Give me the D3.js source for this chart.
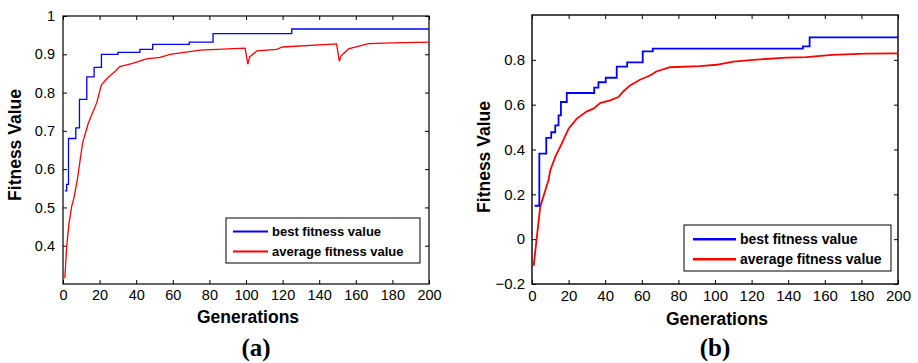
<!DOCTYPE html>
<html>
<head>
<meta charset="utf-8">
<script src="https://cdn.jsdelivr.net/npm/d3@7"></script>
<style>
  body { margin: 0; background: #fff; }
  svg { display: block; font-family: "Liberation Sans", Arial, sans-serif; }
</style>
</head>
<body>
<svg id="chart" width="918" height="363"></svg>
<script>
// ---- data ----
const xTicks = [0, 20, 40, 60, 80, 100, 120, 140, 160, 180, 200];
const yTicksA = [0.4, 0.5, 0.6, 0.7, 0.8, 0.9, 1];
const yTicksB = [-0.2, 0, 0.2, 0.4, 0.6, 0.8];
const seriesNames = ['best fitness value', 'average fitness value'];

// (a) best fitness: step changes [generation, value]
const bestA = [
    [1, 0.543], [2, 0.56], [3, 0.68], [7, 0.708], [9, 0.782], [13, 0.841], [17, 0.866],
    [21, 0.9], [30, 0.905], [42, 0.913], [49, 0.926], [69, 0.932], [82, 0.954],
    [125, 0.966], [200, 0.966]
];
// (a) average fitness
const avgA = [
    [1, 0.315], [2, 0.397], [3.3, 0.459], [4.7, 0.502], [6, 0.525], [7.8, 0.572],
    [10.7, 0.668], [13.8, 0.72], [18.4, 0.773], [21, 0.82], [24.8, 0.84], [28.4, 0.855],
    [31, 0.868], [38, 0.876], [45.7, 0.888], [53, 0.892], [58.5, 0.9], [75, 0.911],
    [99.5, 0.916], [101, 0.874], [102, 0.893], [106, 0.909], [116.7, 0.913], [120, 0.919],
    [149.5, 0.927], [151, 0.882], [152, 0.896], [156, 0.914], [167, 0.928], [180, 0.93],
    [200, 0.932]
];
// (b) best fitness
const bestB = [
    [1.4, 0.149], [4, 0.382], [7.8, 0.452], [10.5, 0.477], [12.7, 0.508], [14.5, 0.552],
    [15.8, 0.612], [19, 0.652], [34, 0.676], [36.3, 0.7], [40.3, 0.72], [46.3, 0.77],
    [52, 0.789], [60.5, 0.838], [66, 0.85], [148, 0.86], [151.7, 0.9], [200, 0.9]
];
// (b) average fitness
const avgB = [
    [0.9, -0.119], [4.5, 0.145], [9, 0.263], [10, 0.308], [12.7, 0.367], [16.3, 0.427],
    [20, 0.493], [24.5, 0.538], [30, 0.57], [33.6, 0.582], [37.2, 0.607], [42.7, 0.619],
    [47.2, 0.634], [50, 0.66], [53.6, 0.686], [59, 0.711], [64.5, 0.73], [68, 0.748],
    [75.4, 0.767], [91.7, 0.772], [100.8, 0.778], [110, 0.792], [122.6, 0.801],
    [139, 0.81], [150, 0.812], [164, 0.822], [182.6, 0.828], [200, 0.829]
];

const svg = d3.select('#chart');

function translate(x, y) {
    return `translate(${x}, ${y})`;
}

function fmt(d) {
    if (d === 0) return '0';
    if (d === 1) return '1';
    return (d < 0 ? '\u2212' : '') + Math.abs(d).toFixed(1);
}

function panel(p) {
    const width = p.right - p.left, height = p.bottom - p.top;
    const x = d3.scaleLinear().domain([0, 200]).range([0, width]);
    const y = d3.scaleLinear().domain(p.yDomain).range([height, 0]);
    const g = svg.append('g').attr('transform', translate(p.left, p.top));

    // inward ticks on all four sides, matlab box style
    const tickLen = 4;
    const axisStyle = sel => {
        sel.select('.domain').remove();
        sel.selectAll('line').attr('stroke', '#000');
        sel.selectAll('text').attr('fill', '#000').style('font-size', p.tickFont + 'px')
            .style('font-family', '"Liberation Sans", Arial, sans-serif');
    };
    g.append('g').attr('transform', translate(0, height))
        .call(d3.axisBottom(x).tickValues(xTicks).tickSizeInner(-tickLen).tickSizeOuter(0).tickPadding(p.xPad))
        .call(axisStyle);
    g.append('g')
        .call(d3.axisTop(x).tickValues(xTicks).tickSizeInner(-tickLen).tickSizeOuter(0).tickFormat(''))
        .call(axisStyle);
    g.append('g')
        .call(d3.axisLeft(y).tickValues(p.yTicks).tickSizeInner(-tickLen).tickSizeOuter(0).tickPadding(p.yPad).tickFormat(fmt))
        .call(axisStyle);
    g.append('g').attr('transform', translate(width, 0))
        .call(d3.axisRight(y).tickValues(p.yTicks).tickSizeInner(-tickLen).tickSizeOuter(0).tickFormat(''))
        .call(axisStyle);

    g.append('rect').attr('width', width).attr('height', height)
        .attr('fill', 'none').attr('stroke', '#000').attr('stroke-width', p.frame);

    const stepLine = d3.line().x(d => x(d[0])).y(d => y(d[1])).curve(d3.curveStepAfter);
    const line = d3.line().x(d => x(d[0])).y(d => y(d[1]));
    g.append('path').datum(p.avg).attr('d', line)
        .attr('fill', 'none').attr('stroke', '#ff0000').attr('stroke-width', p.lw);
    g.append('path').datum(p.best).attr('d', stepLine)
        .attr('fill', 'none').attr('stroke', '#0000ff').attr('stroke-width', p.lw);

    // legend
    const lg = svg.append('g').attr('transform', translate(p.legend.x, p.legend.y));
    lg.append('rect').attr('width', p.legend.w).attr('height', p.legend.h)
        .attr('fill', '#fff').attr('stroke', '#000').attr('stroke-width', 1);
    seriesNames.forEach((name, i) => {
        const ry = p.legend.row0 + i * p.legend.gap;
        lg.append('line').attr('x1', p.legend.l0).attr('x2', p.legend.l1)
            .attr('y1', ry).attr('y2', ry)
            .attr('stroke', i === 0 ? '#0000ff' : '#ff0000').attr('stroke-width', p.lw + 0.6);
        lg.append('text').attr('x', p.legend.tx).attr('y', ry + p.legend.font * 0.36)
            .style('font-size', p.legend.font + 'px').style('font-weight', 'bold')
            .text(name);
    });

    svg.append('text')
        .attr('transform', translate(p.ylabel.x, p.ylabel.y) + ' rotate(-90)')
        .style('text-anchor', 'middle').style('font-weight', 'bold').style('font-size', '17.5px')
        .text('Fitness Value');
    svg.append('text')
        .attr('x', p.left + width / 2 + 2).attr('y', p.xlabelY)
        .style('text-anchor', 'middle').style('font-weight', 'bold').style('font-size', '17.5px')
        .text('Generations');
    svg.append('text')
        .attr('x', p.tag.x).attr('y', p.tag.y)
        .style('text-anchor', 'middle').style('font-weight', 'bold').style('font-size', '25px')
        .style('font-family', '"Liberation Serif", "Times New Roman", serif')
        .text(p.tag.text);
}

panel({
    left: 63, right: 429, top: 16, bottom: 284,
    yDomain: [0.3, 1], yTicks: yTicksA,
    best: bestA, avg: avgA, lw: 1.3, frame: 1.2,
    tickFont: 14.5, xPad: 6, yPad: 8,
    legend: { x: 226, y: 218, w: 194, h: 45, l0: 7, l1: 42, tx: 46, row0: 13.5, gap: 20, font: 13 },
    ylabel: { x: 21, y: 145 },
    xlabelY: 323,
    tag: { x: 256, y: 356, text: '(a)' }
});

panel({
    left: 532, right: 898, top: 15, bottom: 284,
    yDomain: [-0.2, 1], yTicks: yTicksB,
    best: bestB, avg: avgB, lw: 1.8, frame: 1.4,
    tickFont: 15, xPad: 6, yPad: 7,
    legend: { x: 684, y: 225, w: 207, h: 46, l0: 9, l1: 52, tx: 56, row0: 14.3, gap: 20, font: 14 },
    ylabel: { x: 490, y: 157 },
    xlabelY: 325,
    tag: { x: 715, y: 356, text: '(b)' }
});
</script>
</body>
</html>
